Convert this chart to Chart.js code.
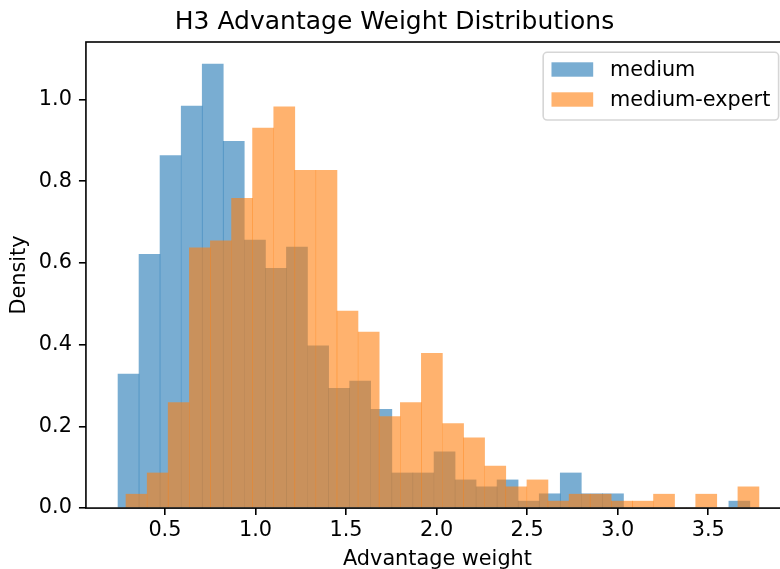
<!DOCTYPE html>
<html>
<head>
<meta charset="utf-8">
<script src="https://cdn.jsdelivr.net/npm/chart.js@4.4.1/dist/chart.umd.min.js"></script>
<style>
html, body { margin: 0; padding: 0; background: #ffffff; overflow: hidden; }
#wrap { position: absolute; left: 0; top: 0; width: 800px; height: 580px; }
</style>
</head>
<body>
<div id="wrap"><canvas id="c" width="800" height="580"></canvas></div>
<script>
// ---- data ----
const chartTitle = 'H3 Advantage Weight Distributions';
const xAxisLabel = 'Advantage weight';
const yAxisLabel = 'Density';
const seriesLabels = ['medium', 'medium-expert'];

// histogram bin centres (30 bins each)
const mediumBinCenters = [0.299, 0.415, 0.531, 0.648, 0.764, 0.880, 0.997, 1.113, 1.229, 1.346,
  1.462, 1.578, 1.695, 1.811, 1.927, 2.044, 2.160, 2.276, 2.392, 2.509,
  2.625, 2.741, 2.858, 2.974, 3.090, 3.207, 3.323, 3.439, 3.556, 3.672];
const mediumDensity = [0.328, 0.621, 0.863, 0.984, 1.087, 0.898, 0.656, 0.587, 0.639, 0.397,
  0.293, 0.311, 0.242, 0.086, 0.086, 0.138, 0.069, 0.052, 0.069, 0.017,
  0.035, 0.086, 0.035, 0.035, 0, 0, 0, 0, 0, 0.017];

const expertBinCenters = [0.343, 0.460, 0.576, 0.693, 0.809, 0.926, 1.042, 1.159, 1.275, 1.392,
  1.508, 1.625, 1.741, 1.858, 1.974, 2.091, 2.207, 2.324, 2.440, 2.557,
  2.673, 2.790, 2.906, 3.023, 3.139, 3.256, 3.372, 3.489, 3.605, 3.722];
const expertDensity = [0.034, 0.086, 0.258, 0.637, 0.654, 0.758, 0.930, 0.982, 0.827, 0.827,
  0.482, 0.431, 0.224, 0.258, 0.379, 0.207, 0.172, 0.103, 0.052, 0.069,
  0.017, 0.034, 0.034, 0.017, 0.017, 0.034, 0, 0.034, 0, 0.052];

const xTickValues = [0.5, 1.0, 1.5, 2.0, 2.5, 3.0, 3.5];
const yTickValues = [0.0, 0.2, 0.4, 0.6, 0.8, 1.0];
const xRange = [0.0638, 3.946];
const yRange = [0, 1.141];

// ---- styling ----
const FONT = 'DejaVu Sans';
const BLUE = 'rgba(31,119,180,0.6)';
const ORANGE = 'rgba(255,127,14,0.6)';
const SPINE_W = 1.6;

const framePlugin = {
  id: 'frame',
  afterDatasetsDraw(chart) {
    const { ctx, chartArea: a } = chart;
    ctx.save();
    ctx.strokeStyle = '#000';
    ctx.lineWidth = SPINE_W;
    ctx.strokeRect(a.left, a.top, a.right - a.left, a.bottom - a.top);
    ctx.restore();
  }
};

const legendPlugin = {
  id: 'mplLegend',
  afterDraw(chart) {
    const { ctx, chartArea: a } = chart;
    const fs = 20.8;
    ctx.save();
    ctx.font = fs + 'px "' + FONT + '"';
    const labels = chart.data.datasets.map(d => d.label);
    const tw = Math.max(...labels.map(t => ctx.measureText(t).width));
    const pad = 8.3, handleW = 41.7, handleH = 14.4, textPad = 16.7;
    const w = pad + handleW + textPad + tw + pad;
    const h = 67.7;
    const right = a.right - 10.4;
    const top = a.top + 10.3;
    const left = right - w;
    ctx.beginPath();
    ctx.roundRect(left, top, w, h, 4);
    ctx.fillStyle = 'rgba(255,255,255,0.8)';
    ctx.fill();
    ctx.lineWidth = 1.6;
    ctx.strokeStyle = '#d6d6d6';
    ctx.stroke();
    chart.data.datasets.forEach((d, i) => {
      const rowTop = top + 10 + i * 30;
      ctx.fillStyle = d.backgroundColor;
      ctx.fillRect(left + pad, rowTop, handleW, handleH);
      ctx.fillStyle = '#000';
      ctx.textBaseline = 'alphabetic';
      ctx.textAlign = 'left';
      ctx.fillText(d.label, left + pad + handleW + textPad, top + 23.7 + i * 30);
    });
    ctx.restore();
  }
};

const tickGrid = {
  display: true, drawOnChartArea: false, drawTicks: true,
  tickLength: 7, color: '#000', lineWidth: SPINE_W, offset: false
};

new Chart(document.getElementById('c'), {
  type: 'bar',
  data: {
    datasets: [
      {
        label: seriesLabels[0],
        data: mediumBinCenters.map((x, i) => ({ x: x, y: mediumDensity[i] })),
        xAxisID: 'x', yAxisID: 'y',
        backgroundColor: BLUE, borderWidth: 0,
        barPercentage: 1, categoryPercentage: 1, grouped: false, order: 1
      },
      {
        label: seriesLabels[1],
        data: expertBinCenters.map((x, i) => ({ x: x, y: expertDensity[i] })),
        xAxisID: 'x2', yAxisID: 'y',
        backgroundColor: ORANGE, borderWidth: 0,
        barPercentage: 1, categoryPercentage: 1, grouped: false, order: 0
      }
    ]
  },
  options: {
    responsive: false,
    animation: false,
    devicePixelRatio: 1,
    layout: { padding: { left: 0, right: 11, top: 0, bottom: 7.5 } },
    plugins: {
      legend: { display: false },
      tooltip: { enabled: false },
      title: {
        display: true, text: chartTitle, color: '#000',
        font: { family: FONT, size: 25, weight: 'normal', lineHeight: 1.2 },
        padding: { top: 7.85, bottom: 4.15 }
      }
    },
    scales: {
      x: {
        type: 'linear', position: 'bottom', min: xRange[0], max: xRange[1], offset: false,
        afterBuildTicks: s => { s.ticks = xTickValues.map(v => ({ value: v })); },
        ticks: {
          color: '#000', font: { family: FONT, size: 20.8, lineHeight: 1.2 }, padding: 3.5,
          maxRotation: 0, autoSkip: false, callback: v => Number(v).toFixed(1)
        },
        grid: tickGrid,
        border: { display: false },
        title: {
          display: true, text: xAxisLabel, color: '#000',
          font: { family: FONT, size: 20.8, lineHeight: 1.2 },
          padding: { top: 0.5, bottom: 0 }
        }
      },
      x2: {
        type: 'linear', position: 'bottom', display: false, min: xRange[0], max: xRange[1],
        offset: false, grid: { offset: false }
      },
      y: {
        type: 'linear', position: 'left', min: yRange[0], max: yRange[1],
        afterBuildTicks: s => { s.ticks = yTickValues.map(v => ({ value: v })); },
        ticks: {
          color: '#000', font: { family: FONT, size: 20.8, lineHeight: 1.2 }, padding: 7,
          autoSkip: false, callback: v => Number(v).toFixed(1)
        },
        grid: tickGrid,
        border: { display: false },
        title: {
          display: true, text: yAxisLabel, color: '#000',
          font: { family: FONT, size: 20.8, lineHeight: 1.2 },
          padding: { top: 7.1, bottom: -0.2 }
        }
      }
    }
  },
  plugins: [framePlugin, legendPlugin]
});
</script>
</body>
</html>
